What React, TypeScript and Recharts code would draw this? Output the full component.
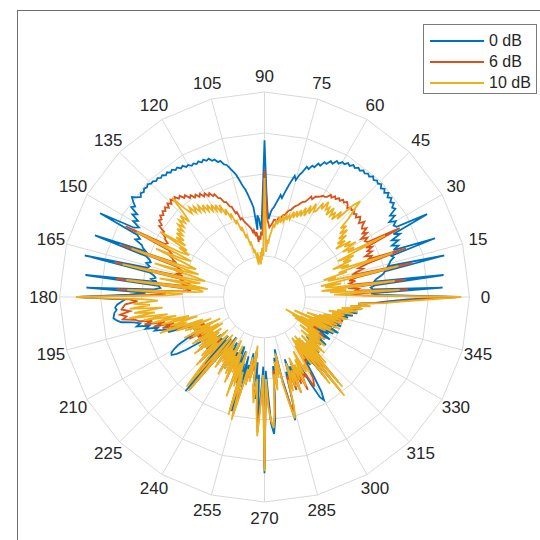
import React from 'react';
import { RadarChart, Radar, PolarGrid, PolarAngleAxis, PolarRadiusAxis, Legend } from 'recharts';

// angle in degrees (one sample per degree, 0..359)
const angles: number[] = Array.from({ length: 360 }, (_, i) => i);
const angleTicks = [0, 15, 30, 45, 60, 75, 90, 105, 120, 135, 150, 165, 180, 195, 210, 225, 240, 255, 270, 285, 300, 315, 330, 345];
const radiusTicks = [-40, -30, -20, -10, 0];
const seriesNames = ['0 dB', '6 dB', '10 dB'];
const seriesColors = ['#0072BD', '#D95319', '#EDB120'];

// 0 dB (blue), one row = 15 degrees
const blue: number[] = [
  -3, -22, -24, -6.5, -23.5, -24, -23, -6, -23, -22.5, -21.5, -20.5, -20, -5, -19,
  -18.5, -18, -17, -17.5, -6, -16.5, -15, -16.5, -14.5, -16, -13.5, -15, -5.5, -13.5, -14,
  -13, -14.5, -12.5, -13.5, -11.5, -12, -11, -11.6, -10.7, -11.4, -10.5, -11.3, -10.6, -11.2, -10.4,
  -10.9, -10.5, -11, -10.4, -11.1, -10.7, -11.2, -10.8, -11.4, -11, -11.6, -11.2, -11.9, -11.5, -12.2,
  -12, -12.8, -12.4, -13.5, -13.1, -14.2, -14, -15.2, -14.9, -16.1, -15.9, -17, -16.6, -18, -19,
  -20.5, -19.5, -21, -22.5, -24, -25.5, -24.8, -26, -27, -28, -28.5, -29.5, -31, -29, -24,
  -11.8, -25, -31, -33.5, -31, -30, -33.5, -28, -26.5, -25, -23.5, -22.5, -21, -19.5, -18.5,
  -17.5, -16.5, -16.2, -15.1, -15.2, -14.3, -14.4, -13.6, -13.9, -13.3, -13.8, -13.2, -13.6, -13.1, -13.4,
  -12.8, -13, -12.3, -12.6, -11.9, -12.2, -11.6, -12, -11.4, -11.8, -11.2, -11.5, -11, -11.3, -10.8,
  -10.9, -10.4, -10.8, -10.5, -11, -10.6, -11.2, -10.5, -9.5, -10.4, -11.5, -10.8, -13, -12, -14,
  -13, -15, -14, -5, -15.5, -16.5, -15.5, -17.5, -18, -19, -6, -19.5, -20.5, -21, -20,
  -21, -20.5, -5, -21.5, -22.5, -23, -22, -23.5, -6, -24, -24.5, -23, -6.5, -21, -17,
  -4.5, -16, -15, -14, -13.5, -13.8, -13.2, -13, -12.8, -13.5, -14.5, -17.5, -19, -18, -21,
  -20, -23, -22, -24, -26, -25, -29, -31, -30, -33, -31, -34, -32, -29, -26,
  -24.5, -23.5, -23.3, -24.5, -27, -31, -34, -32, -35, -30, -33, -36, -31, -34, -35.5,
  -33, -36, -37, -28, -36, -20, -37, -30, -36, -34, -38, -33, -36, -32, -37,
  -34, -30, -37, -32, -35, -31, -36, -33, -37, -34, -30, -36, -28, -33, -21,
  -35, -27, -33, -30, -36, -31, -33, -37, -28, -34, -25, -31, -18, -27, -33,
  -7, -32, -27, -19, -16.5, -20, -26, -33, -29, -35, -31, -37, -30, -26, -19,
  -23, -31, -28, -34, -29, -32, -27, -33, -28, -31, -27, -30, -33, -26, -22,
  -21, -23, -28, -33, -30, -35, -31, -27, -34, -24, -36, -26, -33, -35, -31,
  -34, -32, -36, -33, -35, -32, -34, -31, -33, -35, -32, -34, -31, -33, -35,
  -32, -34, -31, -33, -30, -32, -34, -31, -33, -30, -32, -31, -33, -30, -32,
  -31, -29, -31, -28, -30, -27, -29, -28, -26, -28, -25, -27, -23, -20, -15,
];

// 6 dB (orange)
const orange: number[] = [
  -3, -26, -29, -15, -28, -27, -29.5, -15.5, -28, -29, -27.5, -29, -27, -13, -28,
  -27, -25, -26, -23.5, -13.5, -23, -22, -23.5, -21.5, -22.5, -21, -22.5, -13, -21.5, -22,
  -21, -22.5, -20.5, -21.5, -20, -21, -20.5, -19.5, -20.8, -20, -19.5, -20.5, -19.8, -20.3, -19.5,
  -20, -19.6, -20.4, -19.7, -19.3, -19.9, -19.5, -20.2, -19.8, -20.5, -20, -20.8, -20.3, -21.2, -21.5,
  -21.5, -22, -22.3, -22.5, -23.5, -23, -24, -24.8, -25, -25.5, -26.2, -26.5, -27, -27.8, -28,
  -28.5, -29.3, -29.5, -30, -30.8, -30.5, -31.5, -31, -31, -32, -32.5, -33, -32, -31, -26,
  -19, -30, -35, -34, -36, -35, -36.5, -34, -35, -33.5, -34, -33, -32.5, -32, -31.5,
  -31, -30, -30.2, -28.2, -28.4, -26.6, -26.3, -25, -24.9, -23.6, -23.4, -22.1, -22.4, -21.3, -21.9,
  -20.8, -21.4, -20.3, -20.9, -19.9, -20.4, -19.3, -19.8, -18.5, -18.9, -17.8, -18.2, -17.2, -17.9, -17,
  -17.9, -17.1, -18.1, -17.3, -18, -17.5, -18.3, -17.7, -18.6, -18.2, -19.4, -19, -20.8, -20.6, -21.8,
  -22, -23, -22.5, -12, -24, -25, -24, -25.5, -26, -27, -13, -27.5, -28.5, -27, -29,
  -28, -29.5, -12.5, -30, -29, -31, -30, -31.5, -13.5, -31, -32, -30, -14, -26, -22,
  -4.5, -17, -19, -16, -15.5, -15, -17, -14.5, -16, -15, -18, -19, -22, -20, -25,
  -22, -27, -24, -28, -25, -30, -28, -33, -30, -34, -31, -36, -30, -33, -29,
  -34, -31, -35, -30, -34, -32, -36, -31, -35, -29, -34, -32, -37, -30, -35,
  -27.5, -36, -31, -27, -22, -37, -21, -30, -36, -34, -30, -37, -32, -35, -29,
  -34, -31, -37, -30, -33, -28, -36, -31, -34, -26, -32, -28, -35, -21, -30,
  -20, -27, -31, -29, -34, -30, -32, -37, -28, -25, -29, -23, -17, -25, -30,
  -8, -29, -24, -19.5, -18.5, -21, -27, -32, -28, -33, -31, -35, -29, -25, -20,
  -23, -30, -27, -32, -26, -30, -25, -33, -27, -30, -25, -31, -28, -29, -25,
  -26, -27, -33, -31, -36, -31, -35, -25, -36, -20.5, -36, -22.5, -34, -30, -35,
  -32, -34, -31, -36, -33, -35, -32, -37, -33, -36, -32, -38, -33, -39, -35,
  -40, -33, -38, -32, -36, -32, -39, -31, -35, -31, -37, -30, -35, -30, -34,
  -29.5, -32, -30, -33, -28.5, -31, -27.5, -30, -26.5, -28.5, -24.5, -27, -22, -18, -13,
];

// 10 dB (yellow)
const yellow: number[] = [
  -2, -28, -33, -17, -34, -30, -36, -18, -33, -35, -31, -36, -30, -16.5, -34,
  -32, -35, -29, -31, -17, -30, -28, -32, -27, -29, -26, -30, -17, -27, -25,
  -28, -24, -27, -25, -29, -26, -28, -25, -27, -24, -26, -23.5, -25, -22, -20,
  -17, -19, -24, -22, -25, -23, -24.5, -22.5, -25, -23, -24, -22, -24.5, -23, -25.5,
  -26, -24, -27, -25, -28, -26, -28.5, -27, -29, -27.5, -29.5, -28, -30, -29, -30.5,
  -29, -31, -30, -31.5, -30, -32, -31, -33, -32, -34, -35, -37, -36, -39, -33,
  -21, -36, -40, -38, -41, -39, -42, -40, -41.5, -39, -42, -40, -38, -39, -36,
  -37, -34, -35, -32, -33, -30, -31, -28, -29, -26.5, -28, -25, -27, -24.5, -26,
  -24, -25.5, -23.5, -25, -23, -24.5, -22.5, -24, -22, -23.5, -21.5, -23, -21, -17, -22,
  -24, -21.5, -23.5, -22, -24, -22.5, -24.5, -23, -25, -23.5, -26, -24, -27, -20, -28,
  -26, -29, -27, -15, -30, -28, -21, -29, -32, -30, -15.5, -33, -31, -22, -32,
  -35, -33, -14.5, -34, -32, -24, -33, -36, -16, -34, -35, -33, -16.5, -30, -26,
  -4, -20, -24, -18, -22, -17, -25, -18, -23, -16.5, -26, -20, -28, -22, -31,
  -24, -33, -26, -30, -23, -34, -27, -36, -29, -33, -31, -38, -28, -35, -30,
  -37, -32, -38, -29, -35, -31, -37, -30, -36, -28, -35, -31, -38, -29, -34,
  -26.5, -37, -30, -26, -21, -38, -20.5, -31, -37, -33, -29, -38, -31, -36, -28,
  -35, -30, -38, -29, -34, -27, -37, -30, -35, -24, -33, -27, -36, -20, -31,
  -19, -26, -32, -28, -35, -29, -33, -38, -27, -24, -30, -22, -16, -24, -31,
  -7.5, -30, -23, -20, -18, -22, -28, -31, -27, -34, -30, -36, -28, -24, -19.5,
  -22, -29, -26, -33, -27, -31, -25, -34, -28, -32, -26, -33, -29, -35, -29,
  -31, -28.5, -36, -32, -38, -30, -37, -23.5, -38, -19, -37, -21, -35, -28, -37,
  -31, -35, -30, -38, -32, -36, -31, -39, -33, -37, -32, -41, -34, -42, -36,
  -44, -33, -40, -31, -38, -32, -42, -30, -37, -31, -39, -30, -36, -30.5, -35,
  -29, -33, -30, -34, -28, -32, -27, -31, -26, -29, -24, -27, -21, -17, -11,
];

const data = angles.map((a, i) => ({ angle: a, s0: blue[i], s6: orange[i], s10: yellow[i] }));
const seriesKeys = ['s0', 's6', 's10'];

const FONT = 'Liberation Sans, Arial, Helvetica, sans-serif';

const AngleTick = (props: any) => {
  const { x, y, payload } = props;
  return (
    <text x={x} y={y} textAnchor="middle" dominantBaseline="central" fontSize={17} fill="#262626" fontFamily={FONT}>
      {payload.value}
    </text>
  );
};

const LegendBox = () => (
  <div
    style={{
      width: 114,
      height: 70,
      border: '1px solid #7a7a7a',
      background: '#fff',
      boxSizing: 'border-box',
      padding: '5px 0 0 6px',
      fontFamily: FONT,
      fontSize: 16,
      color: '#262626',
    }}
  >
    {seriesNames.map((n, i) => (
      <div key={n} style={{ display: 'flex', alignItems: 'center', height: 21 }}>
        <div style={{ width: 54, height: 2, background: seriesColors[i], marginRight: 5 }} />
        <span>{n}</span>
      </div>
    ))}
  </div>
);

export default function App() {
  return (
    <div style={{ position: 'fixed', left: 0, top: 0, width: 540, height: 540, overflow: 'hidden', background: '#fff' }}>
      <div
        style={{
          position: 'absolute',
          left: 17,
          top: 10,
          width: 600,
          height: 600,
          border: '1.5px solid #6e6e6e',
          boxSizing: 'border-box',
        }}
      />
      <div style={{ position: 'absolute', left: 0, top: 0 }}>
        <RadarChart
          width={540}
          height={540}
          data={data}
          cx={264.5}
          cy={297}
          innerRadius={41}
          outerRadius={205}
          startAngle={0}
          endAngle={360}
          margin={{ top: 0, right: 0, bottom: 0, left: 0 }}
        >
          <PolarGrid stroke="#d9d9d9" strokeWidth={1} polarAngles={angleTicks} />
          <PolarAngleAxis
            dataKey="angle"
            type="number"
            domain={[0, 360]}
            ticks={angleTicks as any}
            tick={<AngleTick />}
            tickSize={16}
            tickLine={false}
            axisLine={false}
          />
          <PolarRadiusAxis
            type="number"
            domain={[-40, 0]}
            ticks={radiusTicks as any}
            allowDataOverflow
            tick={false}
            axisLine={false}
          />
          {seriesKeys.map((k, i) => (
            <Radar
              key={k}
              name={seriesNames[i]}
              dataKey={k}
              stroke={seriesColors[i]}
              strokeWidth={1.8}
              fill="none"
              fillOpacity={0}
              dot={false}
              isAnimationActive={false}
            />
          ))}
          <Legend
            content={<LegendBox />}
            wrapperStyle={{ position: 'absolute', left: 423, top: 24, width: 114, height: 70 }}
          />
        </RadarChart>
      </div>
    </div>
  );
}
